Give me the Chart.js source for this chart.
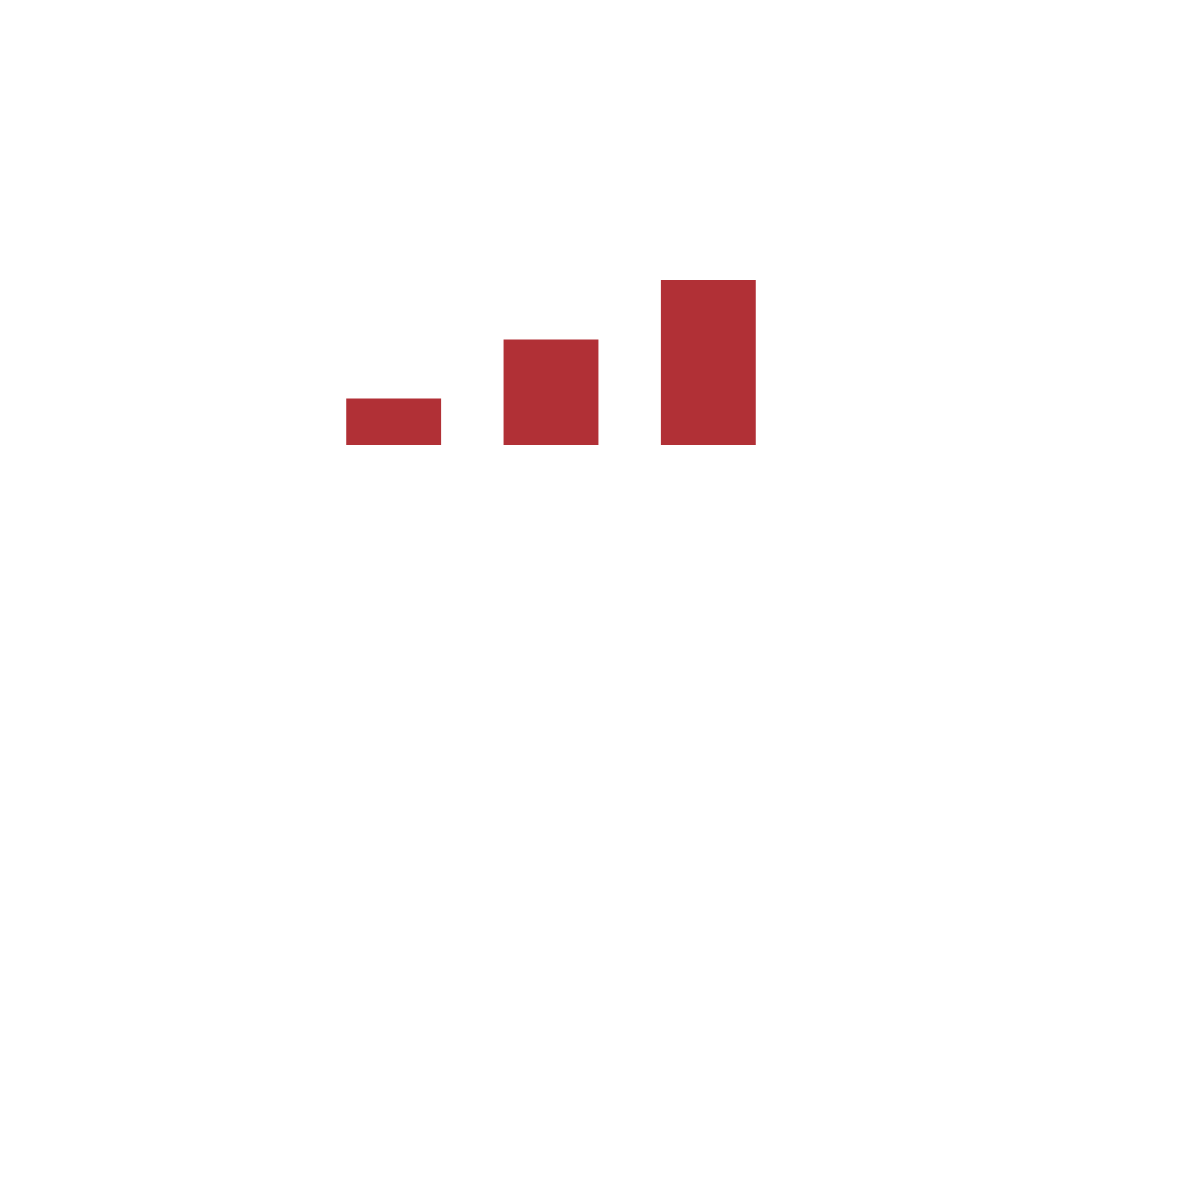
<!DOCTYPE html>
<html>
<head>
<meta charset="utf-8">
<script src="https://cdn.jsdelivr.net/npm/chart.js@4"></script>
<style>
  html, body { margin: 0; padding: 0; background: #ffffff; }
  #wrap { position: absolute; left: 314.5px; top: 280px; width: 472px; height: 165px; }
</style>
</head>
<body>
<div id="wrap"><canvas id="barChart" width="472" height="165"></canvas></div>
<script>
const categories = ['A', 'B', 'C'];
const values = [14.1, 32, 50];
const barColor = '#b13036';

document.addEventListener('DOMContentLoaded', function() {
    const ctx = document.getElementById('barChart');

    new Chart(ctx, {
        type: 'bar',
        data: {
            labels: categories,
            datasets: [{
                data: values,
                backgroundColor: barColor,
                borderWidth: 0,
                categoryPercentage: 1.0,
                barPercentage: 0.603
            }]
        },
        options: {
            responsive: false,
            animation: false,
            layout: { padding: 0 },
            scales: {
                x: { display: false },
                y: { display: false, min: 0, max: 50 }
            },
            plugins: {
                legend: { display: false },
                tooltip: { enabled: false },
                title: { display: false }
            }
        }
    });
});
</script>
</body>
</html>
